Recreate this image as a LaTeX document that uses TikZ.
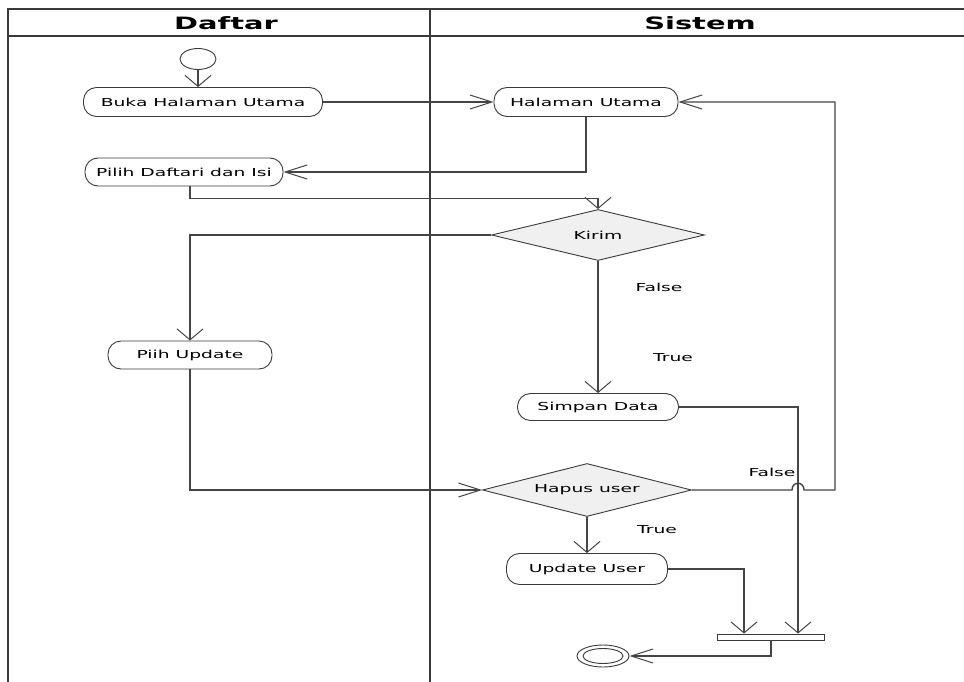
\documentclass[tikz,border=0pt]{standalone}
\usepackage{fontspec}
\usetikzlibrary{arrows.meta,shapes.geometric}
\newfontfamily\umlfont[FakeStretch=1.7]{DejaVu Sans}
\definecolor{ink}{HTML}{3A3A3A}
\definecolor{wire}{HTML}{454545}
\definecolor{decfill}{HTML}{F0F0F0}
\tikzset{
  lane/.style={draw=ink, line width=1.6pt},
  act/.style={draw=ink, line width=0.9pt, rounded corners=13pt, inner sep=0pt,
    font=\umlfont\fontsize{11}{13}\selectfont},
  dec/.style={diamond, aspect=4, draw=ink, line width=0.9pt, fill=decfill, inner sep=0pt,
    font=\umlfont\fontsize{11}{13}\selectfont},
  guard/.style={font=\umlfont\fontsize{11}{13}\selectfont, inner sep=0pt},
  conn/.style={draw=wire, line width=1.4pt},
  harr/.style={-{Straight Barb[length=22pt,width=14pt,line width=1pt]}},
  varr/.style={-{Straight Barb[length=11pt,width=26pt,line width=1pt]}},
}
\begin{document}
\begin{tikzpicture}[x=1pt,y=-1pt]
\useasboundingbox (0,0) rectangle (964,682);
\fill[white] (0,0) rectangle (964,682);

% swimlane frame
\draw[lane] (8,682) -- (8,9) -- (964,9);
\draw[lane] (8,36) -- (964,36);
\draw[lane] (430,9) -- (430,682);
\node[font=\umlfont\bfseries\fontsize{17}{20}\selectfont] (hdaftar) at (226,23) {Daftar};
\node[font=\umlfont\bfseries\fontsize{17}{20}\selectfont] (hsistem) at (700,23) {Sistem};

% initial and final nodes
\node[ellipse, draw=ink, line width=0.9pt, minimum width=36pt, minimum height=21pt, inner sep=0pt] (start) at (198,59) {};
\node[ellipse, draw=ink, line width=0.9pt, minimum width=52pt, minimum height=22pt, inner sep=0pt] (endo) at (603,656) {};
\node[ellipse, draw=ink, line width=0.9pt, minimum width=40pt, minimum height=15pt, inner sep=0pt] (endi) at (603,656) {};

% actions
\node[act, minimum width=239pt, minimum height=29pt] (buka) at (203,102) {Buka Halaman Utama};
\node[act, minimum width=184pt, minimum height=29pt] (hal) at (586,102) {Halaman Utama};
\node[act, minimum width=198pt, minimum height=28pt] (pilih) at (184,172) {Pilih Daftari dan Isi};
\node[act, minimum width=164pt, minimum height=28pt] (piih) at (190,355) {Piih Update};
\node[act, minimum width=161pt, minimum height=27pt] (simpan) at (598,407) {Simpan Data};
\node[act, minimum width=161pt, minimum height=31pt] (upd) at (587,569) {Update User};

% decisions
\node[dec, minimum width=213pt, minimum height=51pt] (kirim) at (598,235) {Kirim};
\node[dec, minimum width=209pt, minimum height=53pt] (hapus) at (587,490) {Hapus user};

% join bar
\node[draw=ink, line width=0.9pt, fill=white, minimum width=107pt, minimum height=6pt, inner sep=0pt] (bar) at (771,637) {};

% guards
\node[guard] (gfalse1) at (659,287) {False};
\node[guard] (gtrue1) at (673,358) {True};
\node[guard] (gfalse2) at (772,472) {False};
\node[guard] (gtrue2) at (657,530) {True};

% flows
\draw[conn, varr] (start.south) -- (start.south |- buka.north);
\draw[conn, harr] (buka) -- (hal);
\draw[conn, harr] (hal.south) |- (pilih.east);
\draw[conn, varr] ([xshift=6pt]pilih.south) -- ++(0,12) -| (kirim.north);
\draw[conn, varr] (kirim.west) -| (piih.north);
\draw[conn, varr] (kirim.south) -- (simpan.north);
\draw[conn, varr] (simpan.east) -| ([xshift=27pt]bar.north);
\draw[conn, harr] (piih.south) |- (hapus.west);
\draw[conn, harr] (hapus.east) -- (792,490) .. controls (792,481) and (804,481) .. (804,490)
  -- (835,490) -- (835,102) -- (hal.east);
\draw[conn, varr] (hapus.south) -- (upd.north);
\draw[conn, varr] (upd.east) -| ([xshift=-27pt]bar.north);
\draw[conn, harr] (bar.south) |- (endo.east);
\end{tikzpicture}
\end{document}
